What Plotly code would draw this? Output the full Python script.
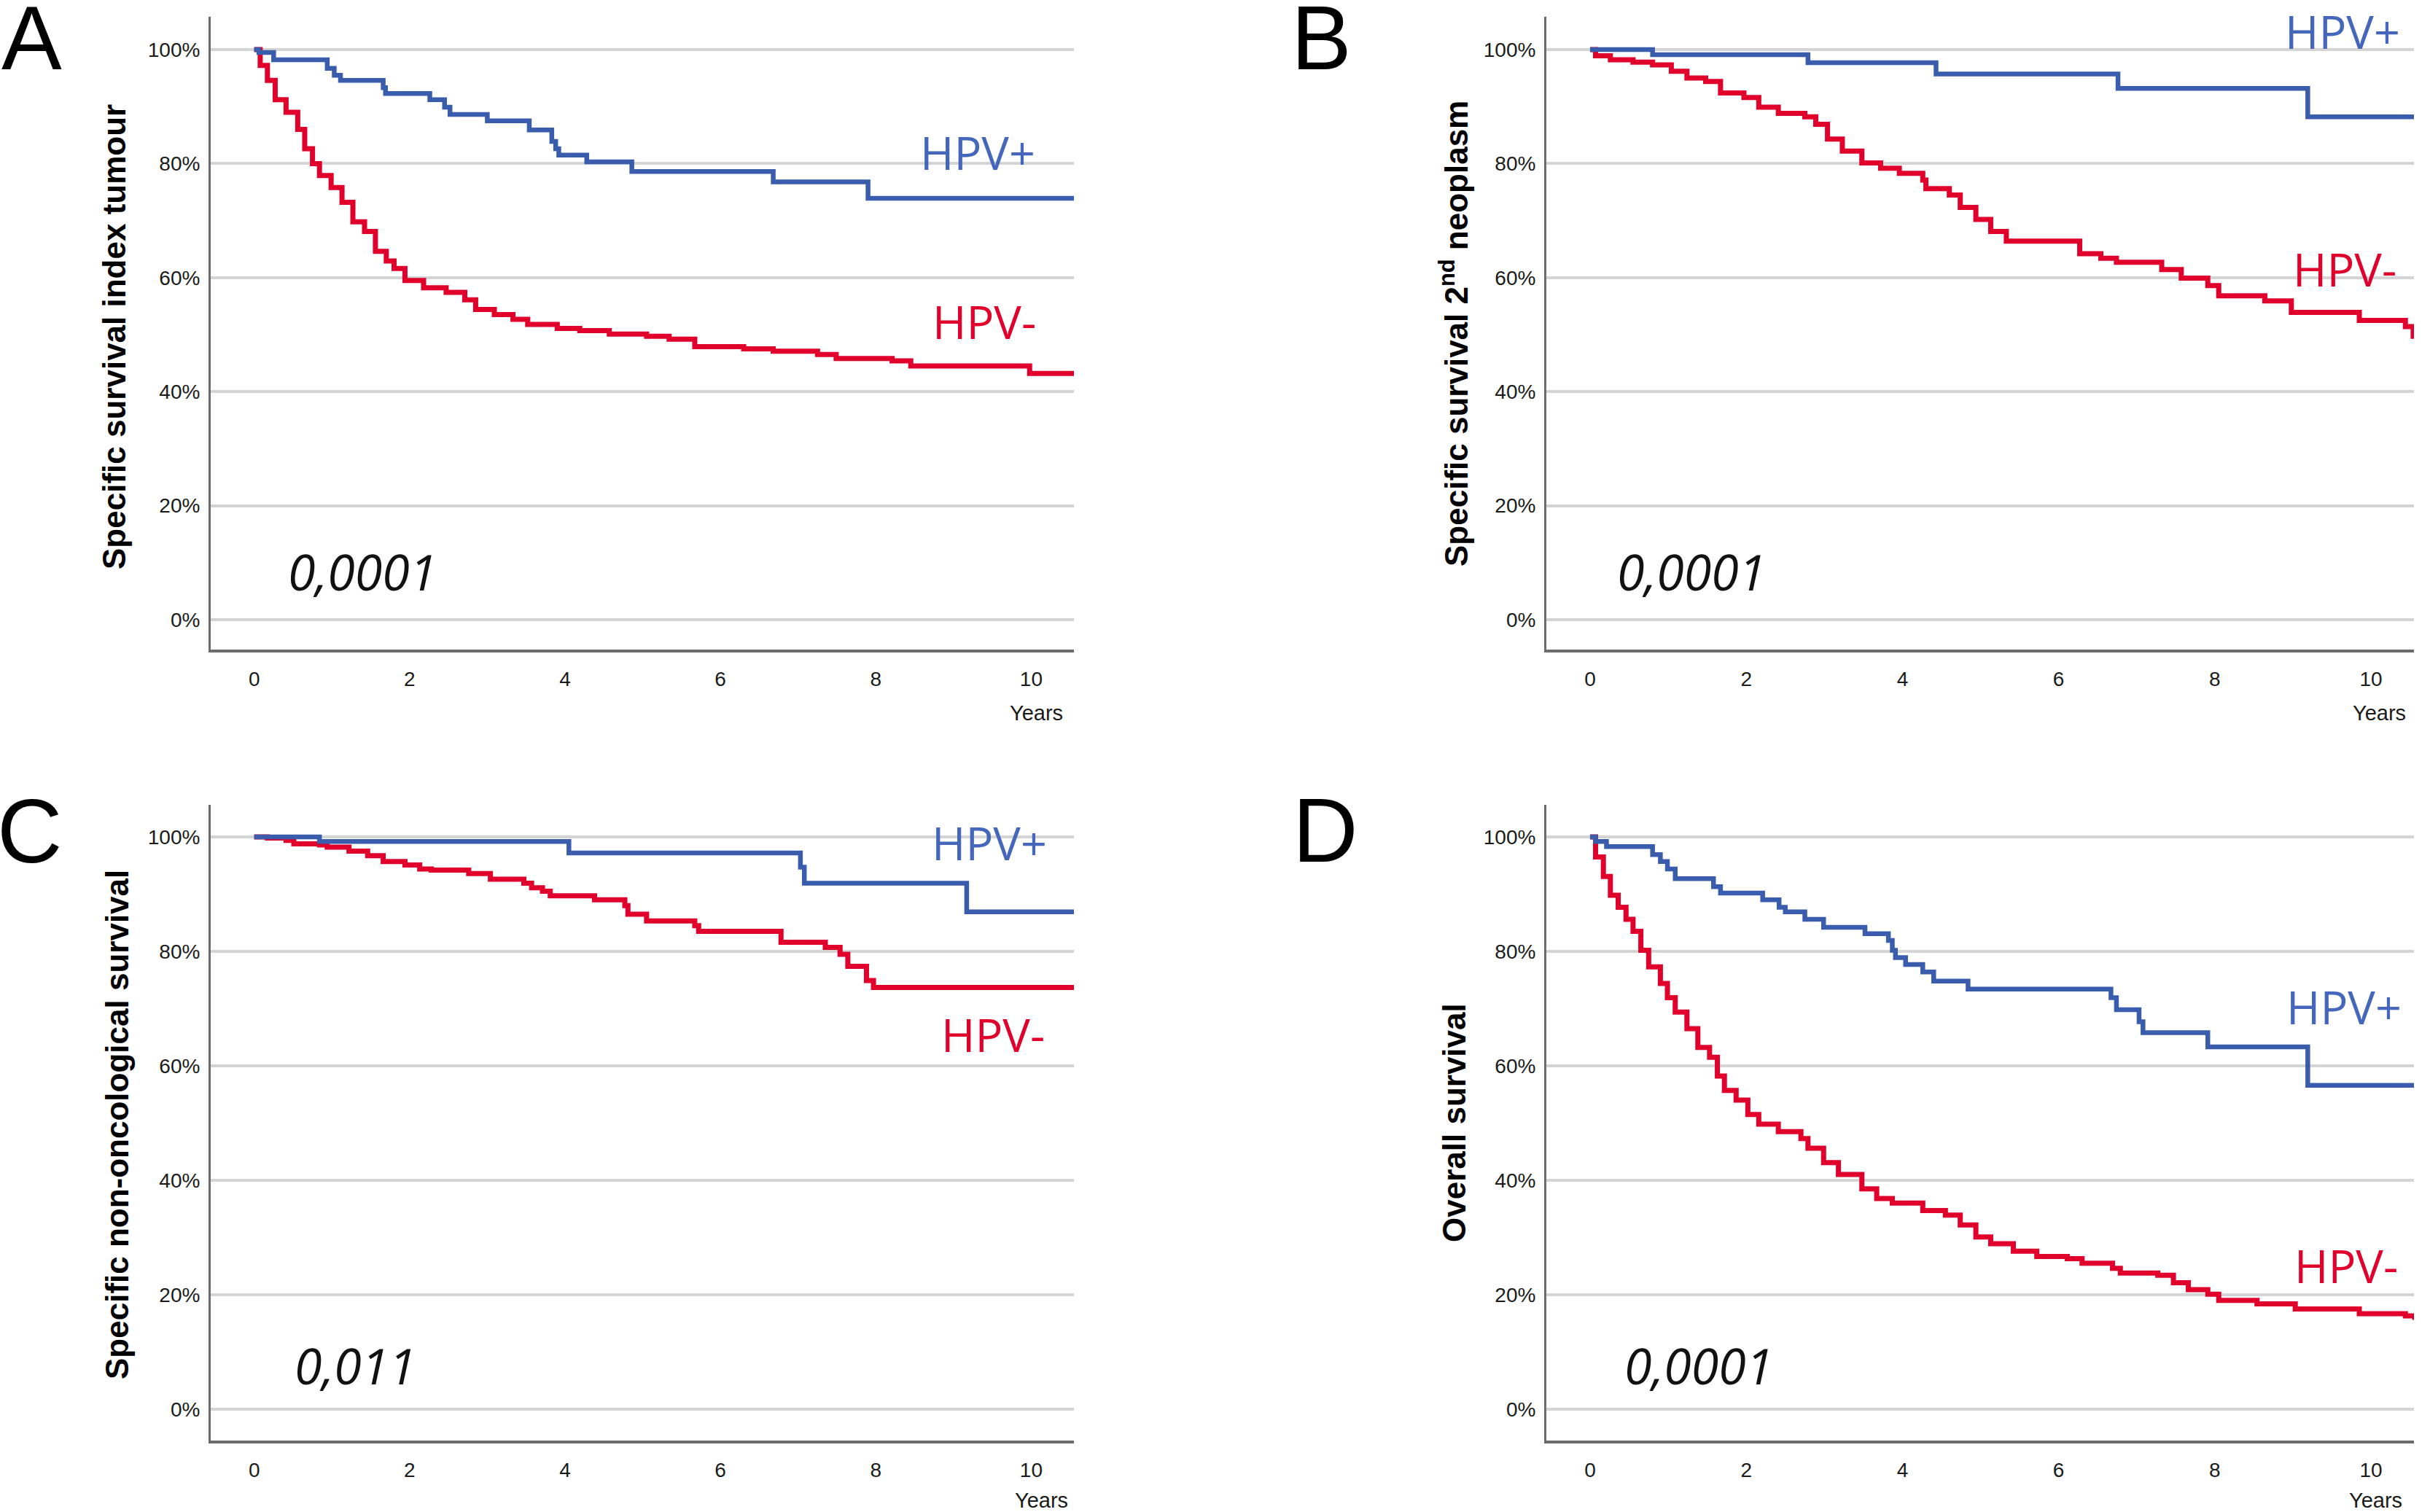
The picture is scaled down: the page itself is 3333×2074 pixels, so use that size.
import plotly.graph_objects as go

# ---------------- data (years, survival %) ----------------
A_pos_t = [0, 0.06, 0.25, 0.94, 1.03, 1.11, 1.66, 1.69, 2.26, 2.45, 2.52, 3.0, 3.54, 3.83, 3.88, 3.92, 4.28, 4.86, 6.68, 7.9, 10.56]
A_pos_s = [100, 99.5, 98.2, 96.7, 95.5, 94.6, 93.3, 92.3, 91.2, 89.9, 88.6, 87.5, 85.9, 83.9, 82.6, 81.5, 80.3, 78.6, 76.8, 73.9, 73.9]
A_neg_t = [0, 0.077, 0.17, 0.27, 0.41, 0.56, 0.65, 0.75, 0.84, 0.99, 1.13, 1.27, 1.42, 1.56, 1.70, 1.80, 1.94, 2.18, 2.47, 2.71,
           2.85, 3.09, 3.33, 3.52, 3.90, 4.19, 4.57, 5.05, 5.34, 5.67, 6.30, 6.68, 7.25, 7.49, 8.21, 8.45, 9.98, 10.56]
A_neg_s = [100, 97.2, 94.6, 91.2, 89.0, 86.0, 82.6, 80.0, 77.9, 75.8, 73.2, 69.8, 68.1, 64.6, 62.9, 61.6, 59.5, 58.2, 57.4, 56.1,
           54.4, 53.5, 52.7, 51.8, 51.1, 50.7, 50.1, 49.7, 49.2, 47.9, 47.5, 47.1, 46.5, 45.8, 45.4, 44.5, 43.2, 43.2]

B_pos_t = [0, 0.80, 2.79, 4.43, 6.76, 9.19, 10.56]
B_pos_s = [100, 99.1, 97.7, 95.7, 93.2, 88.2, 88.2]
B_neg_t = [0, 0.07, 0.26, 0.55, 0.80, 1.04, 1.24, 1.48, 1.67, 1.97, 2.16, 2.41, 2.75, 2.89, 3.04, 3.23, 3.48, 3.72, 3.96, 4.26,
           4.30, 4.60, 4.74, 4.94, 5.13, 5.33, 6.27, 6.54, 6.74, 7.32, 7.57, 7.91, 8.05, 8.64, 8.98, 9.85, 10.44, 10.54, 10.56]
B_neg_s = [100, 98.9, 98.2, 97.8, 97.3, 96.2, 95.0, 94.4, 92.4, 91.6, 89.9, 88.8, 88.2, 86.9, 84.3, 82.2, 80.1, 79.2, 78.3, 77.1,
           75.6, 74.5, 72.3, 70.2, 68.1, 66.4, 64.2, 63.4, 62.7, 61.4, 59.9, 58.6, 56.8, 55.9, 53.9, 52.5, 51.4, 49.7, 49.7]

C_pos_t = [0, 0.84, 4.05, 7.03, 7.08, 9.17, 10.56]
C_pos_s = [100, 99.2, 97.2, 94.7, 91.9, 86.9, 86.9]
C_neg_t = [0, 0.17, 0.41, 0.51, 0.84, 0.94, 1.22, 1.46, 1.66, 1.94, 2.13, 2.28, 2.76, 3.04, 3.47, 3.57, 3.71, 3.81, 4.38, 4.77,
           4.81, 5.05, 5.67, 5.72, 6.78, 7.35, 7.54, 7.64, 7.88, 7.97, 10.56]
C_neg_s = [100, 99.8, 99.4, 98.8, 98.6, 98.2, 97.5, 96.7, 95.7, 95.1, 94.4, 94.2, 93.6, 92.6, 91.9, 91.1, 90.5, 89.7, 89.0, 88.0,
           86.5, 85.3, 84.5, 83.5, 81.6, 80.7, 79.5, 77.4, 74.9, 73.7, 73.7]

D_pos_t = [0, 0.07, 0.21, 0.80, 0.90, 0.99, 1.09, 1.58, 1.67, 2.21, 2.42, 2.50, 2.75, 2.99, 3.52, 3.82, 3.87, 3.91, 4.04, 4.26,
           4.40, 4.84, 6.67, 6.74, 7.03, 7.08, 7.91, 9.19, 10.56]
D_pos_s = [100, 99.2, 98.3, 96.9, 95.7, 94.4, 92.7, 91.3, 90.2, 89.0, 87.7, 86.9, 85.6, 84.2, 83.1, 81.9, 80.2, 78.9, 77.7, 76.4,
           74.8, 73.4, 71.9, 69.8, 67.7, 65.8, 63.3, 56.6, 56.6]
D_neg_t = [0, 0.07, 0.17, 0.26, 0.36, 0.46, 0.55, 0.65, 0.75, 0.90, 0.99, 1.09, 1.24, 1.38, 1.53, 1.63, 1.72, 1.87, 2.02, 2.16,
           2.41, 2.70, 2.79, 2.99, 3.18, 3.48, 3.67, 3.87, 4.26, 4.55, 4.74, 4.94, 5.13, 5.42, 5.72, 6.11, 6.30, 6.69, 6.79, 7.27,
           7.47, 7.66, 7.91, 8.05, 8.54, 9.03, 9.85, 10.44, 10.56]
D_neg_s = [100, 96.5, 93.1, 89.8, 87.7, 85.6, 83.5, 80.2, 77.3, 74.4, 71.9, 69.4, 66.5, 63.2, 61.5, 58.2, 55.7, 54.0, 51.5, 49.8,
           48.5, 47.3, 45.6, 43.1, 41.0, 38.5, 36.8, 36.0, 34.7, 33.9, 32.2, 30.1, 28.9, 27.6, 26.7, 26.3, 25.5, 24.6, 23.8, 23.4,
           22.1, 20.9, 20.1, 19.0, 18.4, 17.5, 16.7, 16.3, 15.6]

panel_letters = ["A", "B", "C", "D"]
y_titles = ["Specific survival index tumour", "Specific survival 2<sup>nd</sup> neoplasm",
            "Specific non-oncological survival", "Overall survival"]
p_values = ["0,0001", "0,0001", "0,011", "0,0001"]
x_ticks = [0, 2, 4, 6, 8, 10]
y_ticks = [0, 20, 40, 60, 80, 100]
y_ticktext = ["0%", "20%", "40%", "60%", "80%", "100%"]
x_title = "Years"
labels = ["HPV+", "HPV-"]

# label positions (data coords) per panel: (x_pos, y_pos, x_neg, y_neg)
label_pos = [(8.55, 82.0, 8.71, 52.4), (8.88, 103.2, 8.98, 61.6),
             (8.70, 99.1, 8.82, 65.6), (8.90, 70.4, 9.00, 25.2)]

W, H = 3333, 2074
BLUE = "#3a5cad"
BLUE_TXT = "#4466bb"
RED = "#e0002b"
GRID = "#d4d4d4"
AXIS = "#6b6b6b"

# layout geometry in pixels
x_dom_px = [(289, 1473), (2121, 3311), (289, 1473), (2121, 3311)]
y_dom_px = [(23, 891), (23, 891), (1104, 1976), (1104, 1976)]
y_ranges = [[-5.24, 105.75], [-5.24, 105.75], [-5.48, 105.6], [-5.48, 105.6]]
x_range = [-0.56, 10.55]

series = [(A_pos_t, A_pos_s, A_neg_t, A_neg_s), (B_pos_t, B_pos_s, B_neg_t, B_neg_s),
          (C_pos_t, C_pos_s, C_neg_t, C_neg_s), (D_pos_t, D_pos_s, D_neg_t, D_neg_s)]

fig = go.Figure()
layout = dict(width=W, height=H, margin=dict(l=0, r=0, t=0, b=0),
              paper_bgcolor="white", plot_bgcolor="white", showlegend=False)
annotations = []

letter_px = [(43, 52), (1812, 52), (41, 1140), (1818, 1139)]
ytitle_px = [(157, 462), (1994, 458), (160, 1543), (1994, 1540)]
pval_px = [(497, 783), (2320, 783), (487, 1872), (2330, 1872)]
years_px = [(1421, 978), (3263, 978), (1428, 2058), (3258, 2058)]

for i in range(4):
    n = "" if i == 0 else str(i + 1)
    xa, ya = "x" + n, "y" + n
    pt, ps, nt, ns = series[i]
    fig.add_trace(go.Scatter(x=nt, y=ns, mode="lines", line=dict(color=RED, width=7, shape="hv"),
                             xaxis=xa, yaxis=ya, hoverinfo="skip"))
    fig.add_trace(go.Scatter(x=pt, y=ps, mode="lines", line=dict(color=BLUE, width=6.5, shape="hv"),
                             xaxis=xa, yaxis=ya, hoverinfo="skip"))
    x0, x1 = x_dom_px[i]
    yt, yb = y_dom_px[i]
    layout["xaxis" + n] = dict(domain=[x0 / W, x1 / W], anchor=ya, range=x_range,
                               tickvals=x_ticks, ticktext=[str(v) for v in x_ticks],
                               showgrid=False, zeroline=False,
                               showline=True, linecolor=AXIS, linewidth=4,
                               ticks="outside", ticklen=12, tickcolor="rgba(0,0,0,0)",
                               tickfont=dict(family="Liberation Sans, Arial", size=28, color="#1a1a1a"))
    layout["yaxis" + n] = dict(domain=[1 - yb / H, 1 - yt / H], anchor=xa, range=y_ranges[i],
                               tickvals=y_ticks, ticktext=y_ticktext,
                               showgrid=True, gridcolor=GRID, gridwidth=4,
                               zeroline=False, showline=True, linecolor=AXIS, linewidth=3,
                               ticks="outside", ticklen=6, tickcolor="rgba(0,0,0,0)",
                               tickfont=dict(family="Liberation Sans, Arial", size=28, color="#1a1a1a"))
    # panel letter
    annotations.append(dict(text=panel_letters[i], x=letter_px[i][0] / W, y=1 - letter_px[i][1] / H,
                            xref="paper", yref="paper", showarrow=False, xanchor="center", yanchor="middle",
                            font=dict(family="Liberation Sans, Arial", size=124, color="black")))
    # y title
    annotations.append(dict(text=y_titles[i], x=ytitle_px[i][0] / W, y=1 - ytitle_px[i][1] / H,
                            xref="paper", yref="paper", showarrow=False, textangle=-90,
                            xanchor="center", yanchor="middle",
                            font=dict(family="Liberation Sans, Arial", size=44, color="black", weight="bold")))
    # p-value
    annotations.append(dict(text="<i>" + p_values[i] + "</i>", x=pval_px[i][0] / W, y=1 - pval_px[i][1] / H,
                            xref="paper", yref="paper", showarrow=False, xanchor="center", yanchor="middle",
                            font=dict(family="Open Sans", size=68, color="#111111")))
    # Years
    annotations.append(dict(text=x_title, x=years_px[i][0] / W, y=1 - years_px[i][1] / H,
                            xref="paper", yref="paper", showarrow=False, xanchor="center", yanchor="middle",
                            font=dict(family="Liberation Sans, Arial", size=29, color="#1a1a1a")))
    # HPV labels
    lp = label_pos[i]
    annotations.append(dict(text=labels[0], x=lp[0], y=lp[1], xref=xa, yref=ya, showarrow=False,
                            xanchor="left", yanchor="middle",
                            font=dict(family="Open Sans", size=63, color=BLUE_TXT)))
    annotations.append(dict(text=labels[1], x=lp[2], y=lp[3], xref=xa, yref=ya, showarrow=False,
                            xanchor="left", yanchor="middle",
                            font=dict(family="Open Sans", size=63, color=RED)))

layout["annotations"] = annotations
fig.update_layout(**layout)
fig.write_html("out.html", config={"displayModeBar": False},
               post_script="document.body.style.margin='0';document.body.style.overflow='hidden';")
